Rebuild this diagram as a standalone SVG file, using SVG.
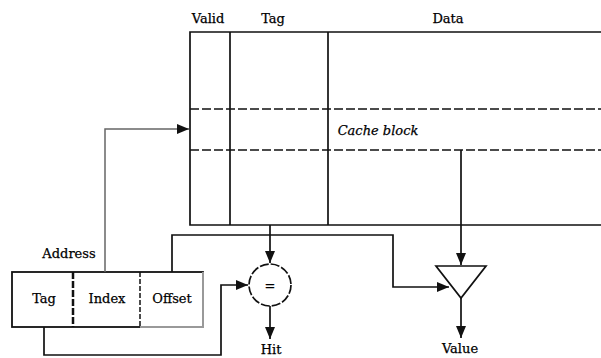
<svg xmlns="http://www.w3.org/2000/svg" width="601" height="358" viewBox="0 0 601 358">
<style>
text{font-family:"DejaVu Serif","Liberation Serif",serif;font-size:13px;fill:#000;stroke:#000;stroke-width:0.25;text-anchor:middle}
.ln{fill:none;stroke:#111;stroke-width:1.7}
.gr{fill:none;stroke:#666;stroke-width:1.5}
.dash{stroke:#111;stroke-width:1.7;stroke-dasharray:9 3}
</style>
<defs>
<marker id="ah" viewBox="0 0 12 10" refX="12" refY="5" markerWidth="12" markerHeight="10" markerUnits="userSpaceOnUse" orient="auto">
<path d="M0,0 L12,5 L0,10 Z" fill="#111"/>
</marker>
</defs>
<rect width="601" height="358" fill="#fff"/>
<g id="cache">
<path class="ln" d="M601,32 H190 V225 H601" stroke-width="2"/>
<line class="ln" x1="230" y1="32" x2="230" y2="225"/>
<line class="ln" x1="328" y1="32" x2="328" y2="225"/>
<line class="dash" x1="190" y1="109" x2="601" y2="109"/>
<line class="dash" x1="190" y1="150" x2="601" y2="150"/>
<text x="208" y="23">Valid</text>
<text x="273" y="23">Tag</text>
<text x="448" y="23">Data</text>
<text x="378" y="135" font-style="italic">Cache block</text>
</g>
<g id="address">
<rect x="12" y="272" width="191" height="55" fill="none" stroke="#111" stroke-width="1.8"/>
<path d="M140,327 H203 V272" fill="none" stroke="#999" stroke-width="2"/>
<line x1="73" y1="272" x2="73" y2="327" stroke="#111" stroke-width="2.5" stroke-dasharray="7 2"/>
<line x1="140" y1="272" x2="140" y2="327" stroke="#111" stroke-width="1.5" stroke-dasharray="5 2"/>
<text x="44" y="303">Tag</text>
<text x="107" y="303">Index</text>
<text x="172" y="303">Offset</text>
<text x="69" y="258">Address</text>
</g>
<g id="compare">
<circle cx="270" cy="285" r="21" fill="#fff" stroke="#111" stroke-width="1.7" stroke-dasharray="9 2"/>
<text x="270" y="290">=</text>
</g>
<g id="mux">
<path d="M436,266 H486 L461,298 Z" fill="#fff" stroke="#111" stroke-width="1.7"/>
</g>
<g id="labels">
<text x="271" y="354">Hit</text>
<text x="460" y="353">Value</text>
</g>
<g id="connectors">
<path class="gr" d="M105,272 V129 H189" marker-end="url(#ah)"/>
<path class="ln" d="M172,272 V235 H393 V287 H449" marker-end="url(#ah)"/>
<path class="ln" d="M44,327 V355 H221 V285 H248" marker-end="url(#ah)"/>
<path class="ln" d="M270,225 V263" marker-end="url(#ah)"/>
<path class="ln" d="M270,306 V339" marker-end="url(#ah)"/>
<path class="ln" d="M461,150 V265" marker-end="url(#ah)"/>
<path class="ln" d="M461,298 V338" marker-end="url(#ah)"/>
</g>
</svg>
